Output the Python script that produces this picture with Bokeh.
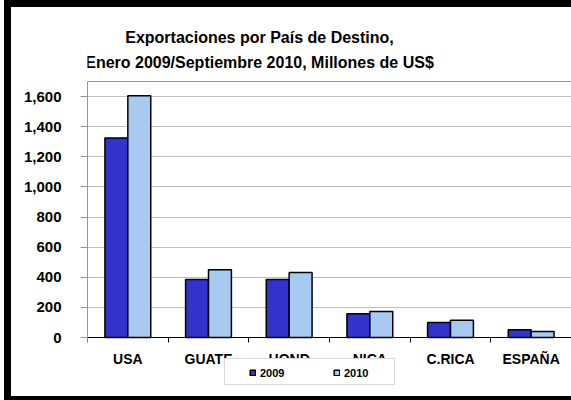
from bokeh.plotting import figure
from bokeh.models import (Range1d, LinearAxis, FixedTicker, Grid, Label,
                          NumeralTickFormatter, Legend, LegendItem, ColumnDataSource)
from bokeh.transform import dodge
from bokeh.embed import file_html
from bokeh.resources import INLINE

categories = ["USA", "GUATE", "HOND", "NICA", "C.RICA", "ESPAÑA"]
v2009 = [1325, 385, 385, 157, 100, 52]
v2010 = [1605, 450, 432, 173, 115, 40]
y_ticks = [0, 200, 400, 600, 800, 1000, 1200, 1400, 1600]
y_top = 1700
title1 = "Exportaciones por País de Destino,"
title2 = "Enero 2009/Septiembre 2010, Millones de US$"
series = ["2009", "2010"]

FONT = "Liberation Sans"
C2009 = "#3333CC"
C2010 = "#A6CAF0"

# layout (pixels on the canvas)
W, H = 560, 380
LEFT = 76
AREA_TOP, AREA_BOTTOM = 74, 330      # plot-area top (value y_top) and baseline (value 0)
px_per_unit = (AREA_BOTTOM - AREA_TOP) / y_top
y_lo = -(H - AREA_BOTTOM) / px_per_unit
y_hi = y_top + AREA_TOP / px_per_unit

n = len(categories)
centers = [i + 0.5 for i in range(n)]
bounds = list(range(n + 1))
src = ColumnDataSource(dict(pos=centers, cat=categories, v2009=v2009, v2010=v2010))

p = figure(x_range=Range1d(0, n), y_range=Range1d(y_lo, y_hi),
           width=W, height=H, output_backend="svg", toolbar_location=None,
           x_axis_location=None, title=None,
           min_border_left=LEFT, min_border_right=0, min_border_top=0, min_border_bottom=0)
# thick black chart frame (left, top, bottom) drawn as shadows so it does not alter the layout
p.styles = {"margin-left": "11px", "margin-top": "7px", "vertical-align": "top",
            "box-shadow": "0 9px 0 0 white, -7px -7px 0 0 black, -7px 0 0 0 black, "
                          "0 -7px 0 0 black, 0 13px 0 0 black, -7px 13px 0 0 black"}
p.background_fill_color = "white"
p.border_fill_color = "white"
p.outline_line_color = None
p.xgrid.visible = False

# y axis
ya = p.yaxis[0]
ya.ticker = FixedTicker(ticks=y_ticks)
ya.bounds = (0, y_top)
ya.formatter = NumeralTickFormatter(format="0,0")
ya.axis_line_color = "#969696"
ya.major_tick_line_color = "#969696"
ya.major_tick_out = 7
ya.major_tick_in = 0
ya.minor_tick_line_color = None
ya.major_label_standoff = 19
ya.major_label_text_font = FONT
ya.major_label_text_font_style = "bold"
ya.major_label_text_font_size = "15px"
ya.major_label_text_color = "black"
p.ygrid.ticker = FixedTicker(ticks=y_ticks[1:])
p.ygrid.grid_line_color = "#C0C0C0"
p.add_layout(Grid(dimension=1, ticker=FixedTicker(ticks=[y_top]), grid_line_color="#969696"))

# x axis: boundary ticks + category labels, both on the baseline
xb = LinearAxis(ticker=FixedTicker(ticks=bounds), fixed_location=0)
xb.axis_line_color = "black"
xb.axis_line_width = 1
xb.major_tick_line_color = "black"
xb.major_tick_out = 5
xb.major_tick_in = 0
xb.minor_tick_line_color = None
xb.major_label_text_font_size = "1px"
xb.major_label_text_alpha = 0
xb.major_label_standoff = 0
p.add_layout(xb, "below")

xc = LinearAxis(ticker=FixedTicker(ticks=centers), fixed_location=0,
                major_label_overrides={c: name for c, name in zip(centers, categories)})
xc.axis_line_color = None
xc.major_tick_line_color = None
xc.minor_tick_line_color = None
xc.major_tick_out = 0
xc.major_tick_in = 0
xc.major_label_standoff = 13
xc.major_label_text_font = FONT
xc.major_label_text_font_style = "bold"
xc.major_label_text_font_size = "14px"
xc.major_label_text_color = "black"
p.add_layout(xc, "below")

# bars
r1 = p.vbar(x=dodge("pos", -0.142), top="v2009", width=0.284, source=src,
            fill_color=C2009, line_color="black", line_width=1.5)
r2 = p.vbar(x=dodge("pos", 0.142), top="v2010", width=0.284, source=src,
            fill_color=C2010, line_color="black", line_width=1.5)
rdummy = p.vbar(x=[], top=[], width=0.1, fill_alpha=0, line_alpha=0)

# two-line title, centred over the chart
for txt, up in ((title1, 44), (title2, 19)):
    p.add_layout(Label(x=0, y=y_top, x_offset=172, y_offset=up, text=txt, text_align="center",
                       text_baseline="alphabetic", text_font=FONT, text_font_style="bold",
                       text_font_size="16px", text_color="black"))

# legend frame (position measured from the bottom of the canvas area)
BOT = H - AREA_BOTTOM - 59
box = Legend(items=[LegendItem(label=" ", renderers=[rdummy])], location=(137, 11 + BOT),
             orientation="horizontal", padding=0, margin=0, spacing=0,
             glyph_width=20, glyph_height=25, label_width=149, label_height=25, label_standoff=0,
             border_line_color="#B4B4B4", border_line_width=1, background_fill_color="white",
             background_fill_alpha=1, label_text_font_size="11px")
p.add_layout(box, "center")

leg = Legend(items=[LegendItem(label=series[0], renderers=[r1]),
                    LegendItem(label=series[1], renderers=[r2])],
             location=(162, 17 + BOT), orientation="horizontal", padding=0, margin=0, spacing=45,
             glyph_width=7, glyph_height=7, label_width=28, label_height=13, label_standoff=4,
             border_line_color=None, background_fill_alpha=0,
             label_text_font=FONT, label_text_font_style="bold", label_text_font_size="11px",
             label_text_color="black")
p.add_layout(leg, "center")

open("out.html", "w").write(file_html(p, INLINE))
